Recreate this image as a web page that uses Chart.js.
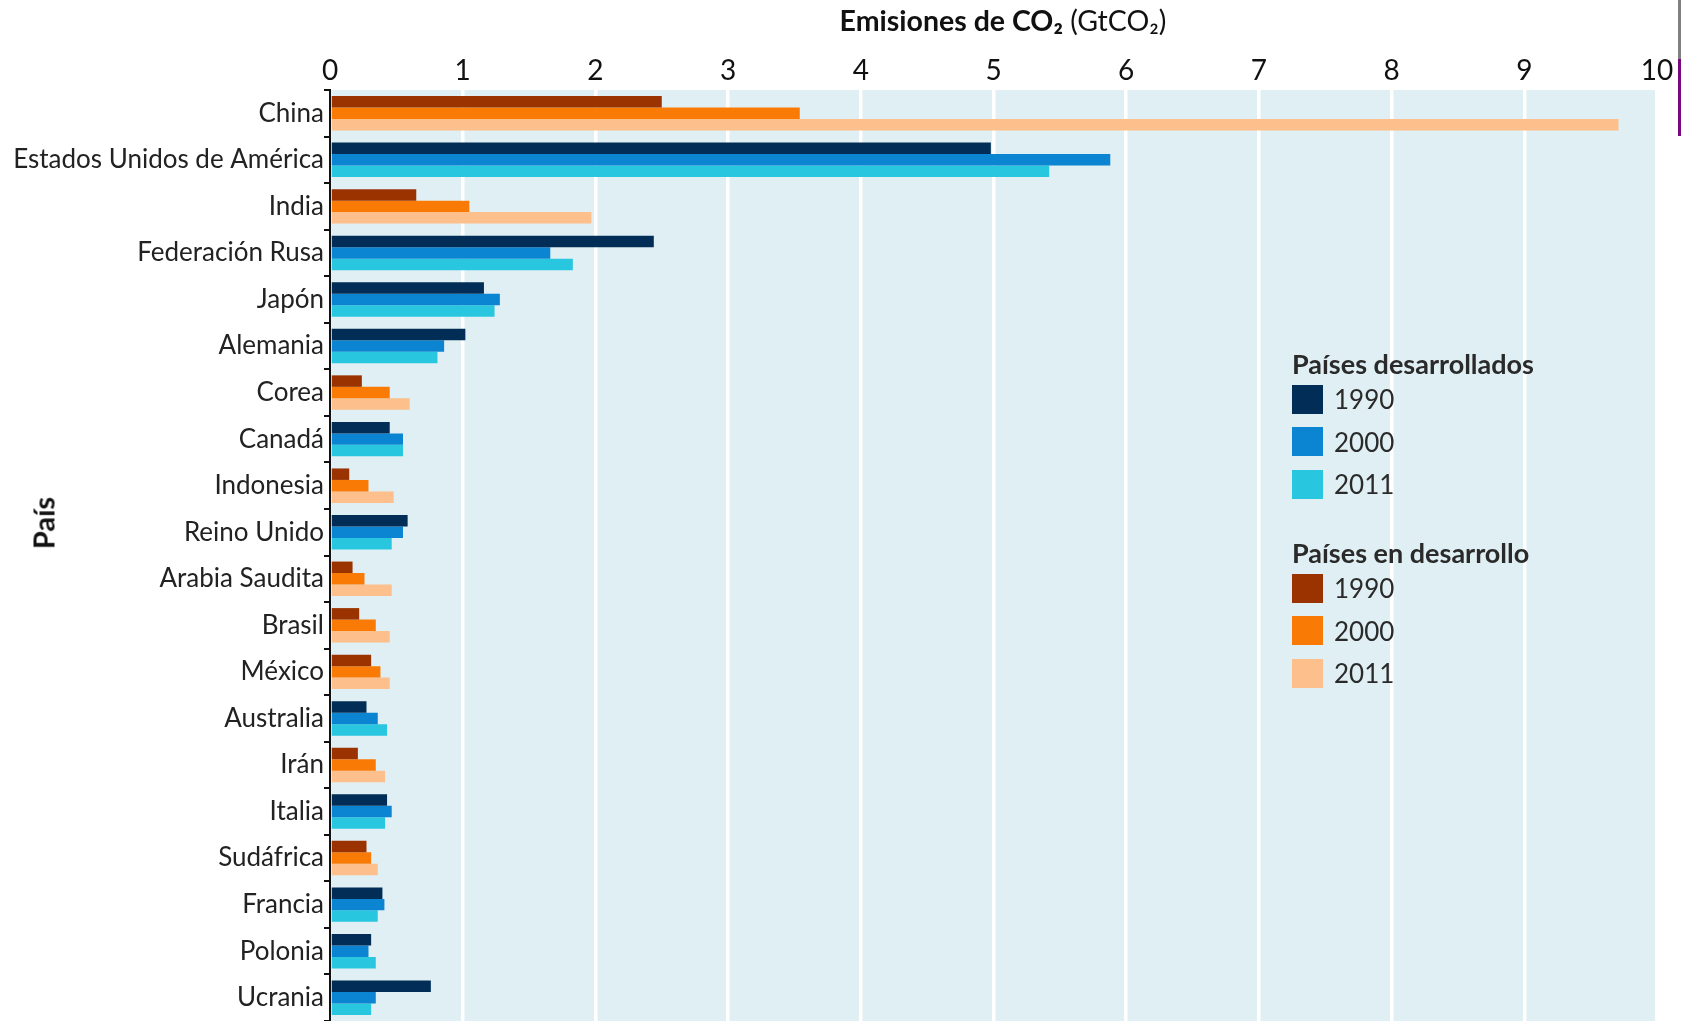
<!DOCTYPE html>
<html>
<head>
<meta charset="utf-8">
<script src="https://cdn.jsdelivr.net/npm/chart.js@4/dist/chart.umd.min.js"></script>
<style>
	body { margin: 0; background: #ffffff; font-family: Lato, "Open Sans", sans-serif; color: #222; }
	#wrap { position: relative; width: 1681px; height: 1021px; overflow: hidden; }
	#titulo { position: absolute; left: 0; width: 2006px; top: 3px; text-align: center; font-size: 28.5px; color: #111; }
	#ejeY { position: absolute; left: 43px; top: 523px; transform: translate(-50%, -50%) rotate(-90deg); font-size: 29px; font-weight: bold; color: #111; }
	.leyenda { position: absolute; left: 1292px; font-size: 26px; color: #2a2a2a; }
	.leyenda .tit { font-weight: bold; font-size: 27px; height: 28px; line-height: 28px; white-space: nowrap; }
	.leyenda .item { height: 42.6px; display: flex; align-items: center; }
	.leyenda .cuadro { width: 31px; height: 29px; margin-right: 11px; }
	.borde { position: absolute; left: 1678px; width: 3px; }
</style>
</head>
<body>
<div id="wrap">
	<canvas id="myBarChart"></canvas>
	<div id="titulo"><b>Emisiones de CO₂</b> (GtCO₂)</div>
	<div id="ejeY">País</div>
	<div class="leyenda" style="top:350px;" id="leyDes"></div>
	<div class="leyenda" style="top:539px;" id="leyEnDes"></div>
	<div class="borde" style="top:0; height:59px; background:#808080;"></div>
	<div class="borde" style="top:59px; height:77px; background:#7a087a;"></div>
</div>
<script>

//countries, top to bottom
var paises = ["China", "Estados Unidos de América", "India", "Federación Rusa", "Japón", "Alemania", "Corea", "Canadá",
	"Indonesia", "Reino Unido", "Arabia Saudita", "Brasil", "México", "Australia", "Irán", "Italia", "Sudáfrica",
	"Francia", "Polonia", "Ucrania"];

//true = developed country (blue bars), false = developing (orange bars)
var desarrollado = [false, true, false, true, true, true, false, true, false, true, false, false, false, true, false, true, false, true, true, true];

//CO2 emissions in GtCO2 for each year
var anios = ["1990", "2000", "2011"];
var e1990 = [2.50, 4.98, 0.65, 2.44, 1.16, 1.02, 0.24, 0.45, 0.145, 0.585, 0.17, 0.22, 0.31, 0.275, 0.21, 0.43, 0.275, 0.395, 0.31, 0.76];
var e2000 = [3.54, 5.88, 1.05, 1.66, 1.28, 0.86, 0.45, 0.55, 0.29, 0.55, 0.26, 0.345, 0.38, 0.36, 0.345, 0.465, 0.31, 0.41, 0.29, 0.345];
var e2011 = [9.71, 5.42, 1.97, 1.83, 1.24, 0.81, 0.60, 0.55, 0.48, 0.465, 0.465, 0.45, 0.45, 0.43, 0.415, 0.415, 0.36, 0.36, 0.345, 0.31];

//tick labels on the top axis
var ticksX = ["0", "1", "2", "3", "4", "5", "6", "7", "8", "9", "10"];

//colors: one per year, blue for developed and orange for developing
var coloresDes = ["#012d56", "#0b84d2", "#28c7df"];
var coloresEnDes = ["#9a3300", "#f97b06", "#fdbf8c"];

function coloresPara(k){
	var lista = [];
	for(var i = 0; i < paises.length; i++){
		lista.push(desarrollado[i] ? coloresDes[k] : coloresEnDes[k]);
	}
	return lista;
}

var series = [e1990, e2000, e2011];
var datasets = [];
for(var k = 0; k < series.length; k++){
	datasets.push({
		label: anios[k],
		data: series[k],
		backgroundColor: coloresPara(k),
		borderWidth: 0,
		categoryPercentage: 0.74,
		barPercentage: 1.0
	});
}

//build the legend boxes as html
function hacerLeyenda(id, titulo, colores){
	var html = '<div class="tit">' + titulo + '</div>';
	for(var k = 0; k < anios.length; k++){
		html += '<div class="item"><span class="cuadro" style="background:' + colores[k] + '"></span>' + anios[k] + '</div>';
	}
	document.getElementById(id).innerHTML = html;
}
hacerLeyenda("leyDes", "Países desarrollados", coloresDes);
hacerLeyenda("leyEnDes", "Países en desarrollo", coloresEnDes);

//paint the light blue plot background
var fondo = {
	id: "fondo",
	beforeDraw: function(chart){
		var a = chart.chartArea;
		var ctx = chart.ctx;
		ctx.save();
		ctx.fillStyle = "#e0eff3";
		ctx.fillRect(a.left, a.top, a.right - a.left, a.bottom - a.top);
		ctx.restore();
	}
};

var ctx = document.getElementById("myBarChart");
var myBarChart = new Chart(ctx, {
	type: "bar",
	data: { labels: paises, datasets: datasets },
	plugins: [fondo],
	options: {
		indexAxis: "y",
		responsive: true,
		maintainAspectRatio: false,
		animation: false,
		layout: { padding: { left: 0, right: 24, top: 0, bottom: 0 } },
		plugins: {
			legend: { display: false },
			tooltip: { enabled: false }
		},
		scales: {
			x: {
				position: "top",
				min: 0,
				max: 10,
				afterFit: function(scale){ scale.height = 90; },
				afterBuildTicks: function(scale){
					scale.ticks = ticksX.map(function(t){ return { value: parseFloat(t) }; });
				},
				ticks: {
					callback: function(v){ return ticksX[v]; },
					font: { family: "Lato", size: 28 },
					color: "#111",
					padding: 2,
					maxRotation: 0
				},
				grid: { color: "#ffffff", lineWidth: 3.5, drawTicks: false },
				border: { display: false }
			},
			y: {
				afterFit: function(scale){
					scale.width = 330;
					//no extra room for half labels at the ends
					scale.paddingTop = 0;
					scale.paddingBottom = 0;
				},
				ticks: {
					font: { family: "Lato", size: 26 },
					color: "#222",
					padding: 0
				},
				grid: { offset: true, drawOnChartArea: false, color: "#111", lineWidth: 2, tickLength: 6 },
				border: { display: true, color: "#111", width: 2 }
			}
		}
	}
});
</script>
</body>
</html>
